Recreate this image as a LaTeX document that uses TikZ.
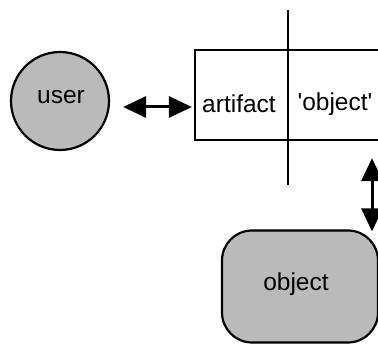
\documentclass[tikz,border=0pt]{standalone}
\usepackage{fontspec}
\setmainfont{Liberation Sans}
\usetikzlibrary{arrows.meta}
\begin{document}
\begin{tikzpicture}[x=1pt,y=-1pt,
  shade/.style={fill=black!27},
  outline/.style={draw=black,line width=2.2pt},
  lbl/.style={font=\fontsize{24.5}{28}\selectfont,inner sep=0pt},
  dbl/.style={line width=3pt,{Triangle[length=23pt,width=21pt]}-{Triangle[length=23pt,width=21pt]}}
]
\useasboundingbox (0,0) rectangle (378,347);
\clip (0,0) rectangle (378,347);
\node[circle,shade,outline,minimum size=98pt,inner sep=0pt] (user) at (60,101) {};
\node[lbl] (usertext) at (61,97) {user};
\node[outline,minimum width=190pt,minimum height=90pt,inner sep=0pt] (art) at (290,95) {};
\node[lbl] (arttext) at (239,104) {artifact};
\node[lbl] (objtext) at (335,104) {\textquotesingle object\textquotesingle};
\coordinate (vtop) at (288,10);
\coordinate (vbot) at (288,185);
\draw[line width=2.2pt] (vtop) -- (vbot);
\node[shade,outline,rounded corners=30pt,minimum width=156pt,minimum height=112pt,inner sep=0pt] (obj) at (300,286.5) {};
\node[lbl] (objlbl) at (296,284) {object};
\draw[dbl] ([shift={(13,6)}]user.east) -- ([shift={(-2,12)}]art.west);
\draw[dbl] ([shift={(0,17)}]art.south -| 372,0) -- ([shift={(0,2)}]obj.north -| 372,0);
\end{tikzpicture}
\end{document}
